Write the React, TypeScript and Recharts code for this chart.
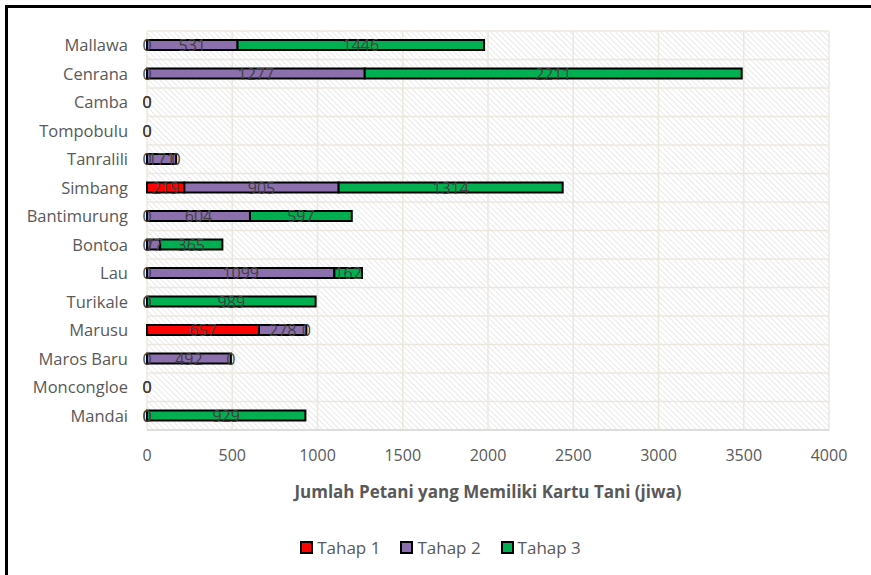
import {
  ComposedChart,
  Bar,
  Scatter,
  XAxis,
  YAxis,
  CartesianGrid,
  LabelList,
  Legend,
} from "recharts";

const kecamatan = [
  "Mallawa", "Cenrana", "Camba", "Tompobulu", "Tanralili", "Simbang", "Bantimurung",
  "Bontoa", "Lau", "Turikale", "Marusu", "Maros Baru", "Moncongloe", "Mandai",
];
const tahap1 = [0, 0, 0, 0, 0, 219, 0, 0, 0, 0, 657, 0, 0, 0];
const tahap2 = [531, 1277, 0, 0, 171, 905, 604, 77, 1099, 0, 278, 492, 0, 0];
const tahap3 = [1446, 2211, 0, 0, 0, 1314, 597, 365, 162, 989, 0, 0, 0, 929];
const xTicks = [0, 500, 1000, 1500, 2000, 2500, 3000, 3500, 4000];

const SERIES = [
  { key: "Tahap 1", color: "#ff0000" },
  { key: "Tahap 2", color: "#8c6fad" },
  { key: "Tahap 3", color: "#00b050" },
];

// zK = where a zero-valued segment of series K starts (Recharts skips labels of empty bars)
const data = kecamatan.map((name, i) => ({
  name,
  "Tahap 1": tahap1[i],
  "Tahap 2": tahap2[i],
  "Tahap 3": tahap3[i],
  z1: tahap1[i] === 0 ? 0 : null,
  z2: tahap2[i] === 0 ? tahap1[i] : null,
  z3: tahap3[i] === 0 ? tahap1[i] + tahap2[i] : null,
}));

const FONT = "'Open Sans', sans-serif";

function LegendContent() {
  return (
    <div style={{ display: "flex", justifyContent: "center", paddingLeft: 30, height: 30, alignItems: "center", fontFamily: FONT, fontSize: 17, color: "#595959" }}>
      {SERIES.map((s) => (
        <div key={s.key} style={{ display: "flex", alignItems: "center", marginRight: 20 }}>
          <span style={{ display: "inline-block", width: 9, height: 9, background: s.color, border: "2px solid #000", marginRight: 4 }} />
          {s.key}
        </div>
      ))}
    </div>
  );
}

function SegmentLabel(props: any) {
  const { x, y, width, height, value } = props;
  if (value == null) return null;
  return (
    <text
      x={Number(x) + Number(width) / 2}
      y={Number(y) + Number(height) / 2}
      textAnchor="middle"
      dominantBaseline="central"
      fill="#404040"
      fontSize={16}
      fontFamily={FONT}
    >
      {value}
    </text>
  );
}

function ZeroLabel(props: any) {
  const { cx, cy } = props;
  if (cx == null || cy == null || Number.isNaN(cx)) return <g />;
  return (
    <text x={cx} y={cy} textAnchor="middle" dominantBaseline="central" fill="#404040" fontSize={16} fontFamily={FONT}>
      0
    </text>
  );
}

export default function App() {
  return (
    <div style={{ position: "absolute", left: 0, top: 0, width: 871, height: 575, background: "#fff", overflow: "hidden" }}>
      <svg width={0} height={0} style={{ position: "absolute" }}>
        <defs>
          <pattern id="hatch" width={4} height={4} patternUnits="userSpaceOnUse" patternTransform="rotate(-45)">
            <line x1={0} y1={0} x2={0} y2={4} stroke="#d6d6d6" strokeWidth={1.1} />
          </pattern>
        </defs>
      </svg>
      <div style={{ position: "absolute", left: 5, top: 5, right: -10, bottom: -10, borderTop: "3px solid #000", borderLeft: "3px solid #000" }} />
      <div style={{ position: "absolute", left: 0, top: 0 }}>
        <ComposedChart
          width={871}
          height={575}
          data={data}
          layout="vertical"
          barSize={10}
          margin={{ top: 31, right: 42, left: 0, bottom: 13 }}
        >
          <CartesianGrid
            fill="url(#hatch)"
            fillOpacity={1}
            stroke="#ebe8de"
            strokeWidth={1.5}
            horizontalCoordinatesGenerator={({ offset }: any) =>
              Array.from({ length: kecamatan.length + 1 }, (_, i) => offset.top + (i * offset.height) / kecamatan.length)
            }
          />
          <XAxis
            type="number"
            domain={[0, 4000]}
            ticks={xTicks}
            axisLine={{ stroke: "#d9d9d9", strokeWidth: 1.5 }}
            tickLine={false}
            tickSize={0}
            tickMargin={20}
            height={102}
            tick={{ fill: "#595959", fontSize: 16, fontFamily: FONT }}
            label={{
              value: "Jumlah Petani yang Memiliki Kartu Tani (jiwa)",
              position: "insideBottom",
              offset: 34,
              fill: "#595959",
              fontSize: 17,
              fontWeight: 700,
              fontFamily: FONT,
            }}
          />
          <YAxis
            type="category"
            dataKey="name"
            width={147}
            allowDuplicatedCategory={false}
            axisLine={false}
            tickLine={false}
            tickSize={0}
            tickMargin={19}
            interval={0}
            tick={{ fill: "#595959", fontSize: 16.5, fontFamily: FONT }}
          />
          <Legend verticalAlign="bottom" content={LegendContent} wrapperStyle={{ left: 0, width: 871 }} />
          {SERIES.map((s) => (
            <Bar key={s.key} dataKey={s.key} stackId="a" fill={s.color} stroke="#000" strokeWidth={2} isAnimationActive={false}>
              <LabelList dataKey={s.key} content={SegmentLabel} />
            </Bar>
          ))}
          {["z1", "z2", "z3"].map((k) => (
            <Scatter key={k} dataKey={k} shape={ZeroLabel} legendType="none" isAnimationActive={false} />
          ))}
        </ComposedChart>
      </div>
    </div>
  );
}
